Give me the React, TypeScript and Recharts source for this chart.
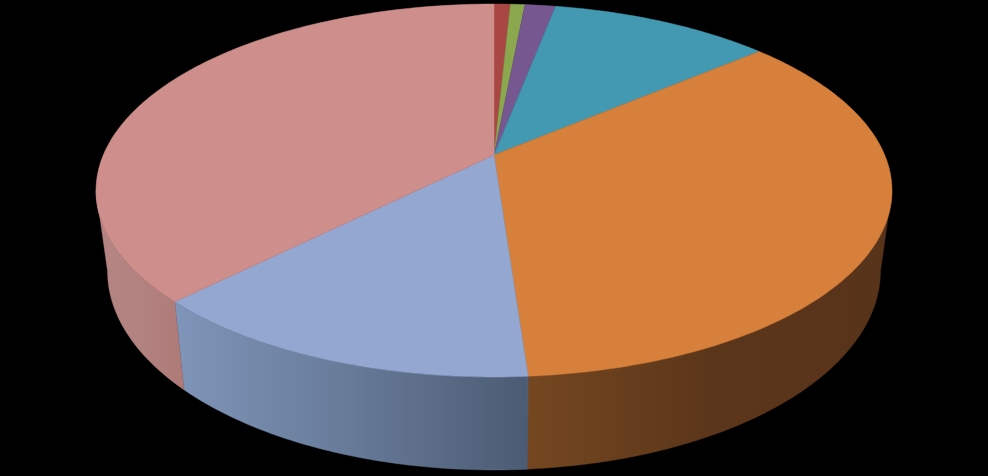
import { PieChart, Pie } from "recharts";

const categories = ["A", "B", "C", "D", "E", "F", "G"];
const values = [0.8, 0.7, 1.5, 10.8, 35.07, 13.63, 37.5];
const topColors = ["#a94744", "#8ca84f", "#77578f", "#4299b1", "#d7803b", "#94a7d0", "#ce8e8c"];
const wallLeft = ["#6e2e2c", "#5b6d33", "#4d395d", "#2b6373", "#744720", "#7f95b9", "#b58583"];
const wallMid = ["#6e2e2c", "#5b6d33", "#4d395d", "#2b6373", "#5c361a", "#677a98", "#b28280"];
const wallRight = ["#6e2e2c", "#5b6d33", "#4d395d", "#2b6373", "#57331a", "#4b5b73", "#ae7a78"];

const data = categories.map((name, i) => ({ name, value: values[i], fill: topColors[i] }));

// perspective of the disc: far edge is squeezed, near edge stretched
const P = 0.19035;
const TOP = { y0: 155, a: 179.7, b: 390.7 };
const BOTTOM = { y0: 233.2, a: 191.7, b: 379.4 };

const project = (cx: number, plane: typeof TOP, deg: number) => {
  const rad = (deg * Math.PI) / 180;
  const x = Math.sin(rad);
  const z = Math.cos(rad);
  const w = 1 + P * z;
  return [cx + (plane.b * x) / w, plane.y0 - (plane.a * z) / w];
};

const arcPoints = (cx: number, plane: typeof TOP, from: number, to: number) => {
  const pts = [];
  const steps = Math.max(2, Math.ceil(Math.abs(to - from)));
  for (let i = 0; i <= steps; i++) pts.push(project(cx, plane, from + ((to - from) * i) / steps));
  return pts;
};

const toPath = (pts: number[][]) =>
  "M" + pts.map((p) => `${p[0].toFixed(2)},${p[1].toFixed(2)}`).join("L") + "Z";

// side wall only shows between the two silhouette tangents
const WALL_FROM = 101;
const WALL_TO = 259;

const Slice3D = (props: any) => {
  const { cx, startAngle, endAngle, fill, name } = props;
  const idx = categories.indexOf(name ?? props.payload?.name);
  const from = 90 - startAngle;
  const to = 90 - endAngle;
  const top = [[cx, TOP.y0], ...arcPoints(cx, TOP, from, to)];
  const wFrom = Math.max(from, WALL_FROM);
  const wTo = Math.min(to, WALL_TO);
  const id = `wall-${idx}`;
  return (
    <g>
      {wTo > wFrom && (
        <>
          <defs>
            <linearGradient id={id} x1="0" y1="0" x2="1" y2="0">
              <stop offset="0%" stopColor={wallLeft[idx]} />
              <stop offset="50%" stopColor={wallMid[idx]} />
              <stop offset="100%" stopColor={wallRight[idx]} />
            </linearGradient>
          </defs>
          <path
            d={toPath([
              ...arcPoints(cx, TOP, wFrom, wTo),
              ...arcPoints(cx, BOTTOM, wTo, wFrom),
            ])}
            fill={`url(#${id})`}
            stroke={wallMid[idx]}
            strokeWidth={0.4}
          />
        </>
      )}
      <path d={toPath(top)} fill={fill} stroke={fill} strokeWidth={0.5} strokeLinejoin="round" />
    </g>
  );
};

export default function App() {
  return (
    <div style={{ position: "fixed", left: 0, top: 0, width: 988, height: 476, background: "#000", overflow: "hidden" }}>
      <PieChart width={988} height={476} margin={{ top: 0, right: 0, bottom: 0, left: 0 }}>
        <Pie
          data={data}
          dataKey="value"
          nameKey="name"
          cx={494}
          cy={155}
          outerRadius={150}
          startAngle={90}
          endAngle={-270}
          stroke="none"
          isAnimationActive={false}
          shape={Slice3D}
        />
      </PieChart>
    </div>
  );
}
